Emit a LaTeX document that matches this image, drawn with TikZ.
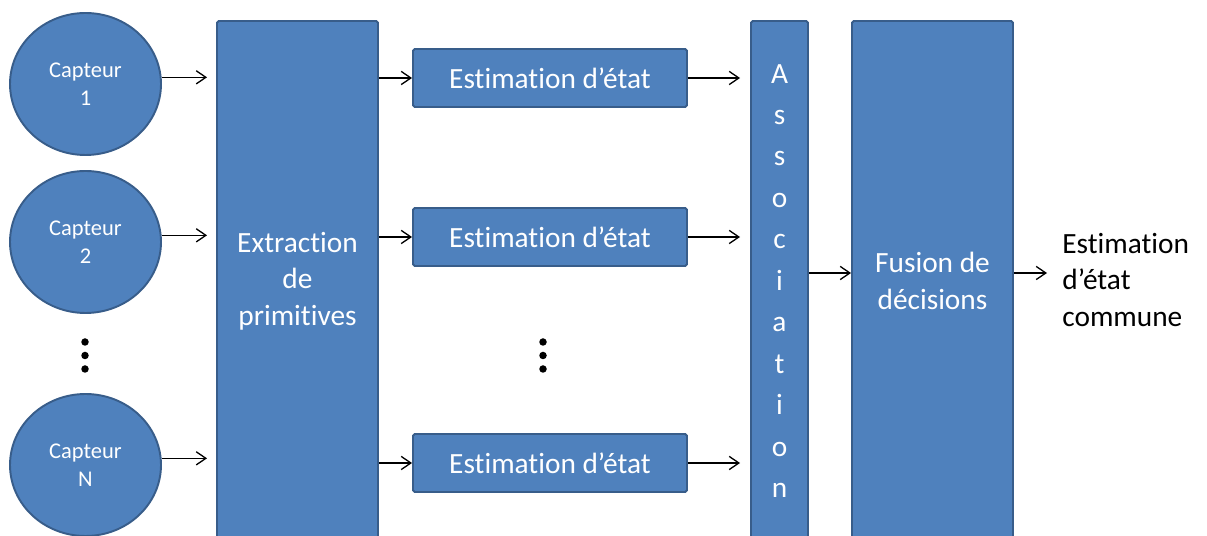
\documentclass[tikz,border=0pt]{standalone}
\usepackage{fontspec}
\setmainfont{Carlito}[Ligatures=NoCommon]
\usetikzlibrary{arrows.meta,shapes.geometric}
\definecolor{bleu}{HTML}{4F81BD}
\definecolor{bordbleu}{HTML}{385D8A}
\tikzset{
	capteur/.style={ellipse, draw=bordbleu, fill=bleu, line width=1.1pt, minimum width=3.02cm, minimum height=2.84cm, inner sep=0pt, text=white, align=center, font=\fontsize{12.8}{15.9}\selectfont},
	bloc/.style={rectangle, rounded corners=1pt, draw=bordbleu, fill=bleu, line width=1.1pt, inner sep=0pt, text=white, align=center, font=\fontsize{16.7}{20.8}\selectfont},
	fleche/.style={-{Straight Barb[length=5.5pt,width=7.5pt]}, line width=0.75pt},
	point/.style={circle, fill=black, inner sep=0pt, minimum size=0.15cm}
}
\begin{document}
\begin{tikzpicture}
		%%%%% START %%%%%
		\useasboundingbox (0, 0) rectangle (24.14, 10.72);
		
		\node[capteur] (c1) at (1.71, 9.04) {Capteur\\1};
		\node[capteur] (c2) at (1.71, 5.88) {Capteur\\2};
		\node[capteur] (cN) at (1.71, 1.42) {Capteur\\N};
		\node[point] (p1) at (1.70, 3.88) {};
		\node[point] (p2) at (1.70, 3.61) {};
		\node[point] (p3) at (1.70, 3.34) {};
		
		\node[bloc, minimum width=3.22cm, minimum height=10.4cm] (ext) at (5.95, 5.1) {Extraction\\de\\primitives};
		
		\node[bloc, minimum width=5.48cm, minimum height=1.16cm] (est1) at (11.0, 9.16) {Estimation d’état};
		\node[bloc, minimum width=5.48cm, minimum height=1.16cm] (est2) at (11.0, 5.98) {Estimation d’état};
		\node[bloc, minimum width=5.48cm, minimum height=1.16cm] (estN) at (11.0, 1.46) {Estimation d’état};
		\node[point] (q1) at (10.86, 3.88) {};
		\node[point] (q2) at (10.86, 3.61) {};
		\node[point] (q3) at (10.86, 3.34) {};
		
		\node[bloc, minimum width=1.14cm, minimum height=10.4cm, font=\fontsize{16.7}{23.6}\selectfont] (asso) at (15.59, 5.1) {A\\s\\s\\o\\c\\i\\a\\t\\i\\o\\n};
		\node[bloc, minimum width=3.22cm, minimum height=10.4cm] (fus) at (18.65, 5.1) {Fusion de\\décisions};
		\node[anchor=west, align=left, inner sep=0pt, font=\fontsize{16.7}{20.8}\selectfont] (sortie) at (21.24, 5.12) {Estimation\\d’état\\commune};
		
		% capteurs vers extraction
		\foreach \c in {c1, c2, cN}
			\draw[fleche, shorten >=0.18cm] (\c.5) -- (\c.5 -| ext.west);
		% extraction vers estimations vers association
		\foreach \e in {est1, est2, estN} {
			\draw[fleche] (\e -| ext.east) -- (\e);
			\draw[fleche, shorten >=0.2cm] (\e) -- (\e -| asso.west);
		}
		\draw[fleche] ([yshift=0.16cm]asso.east) -- ([yshift=0.16cm]fus.west);
		\draw[fleche, shorten >=0.3cm] ([yshift=0.16cm]fus.east) -- ([yshift=0.16cm]fus.east -| sortie.west);
		%%%%% END %%%%%
	\end{tikzpicture}
\end{document}
